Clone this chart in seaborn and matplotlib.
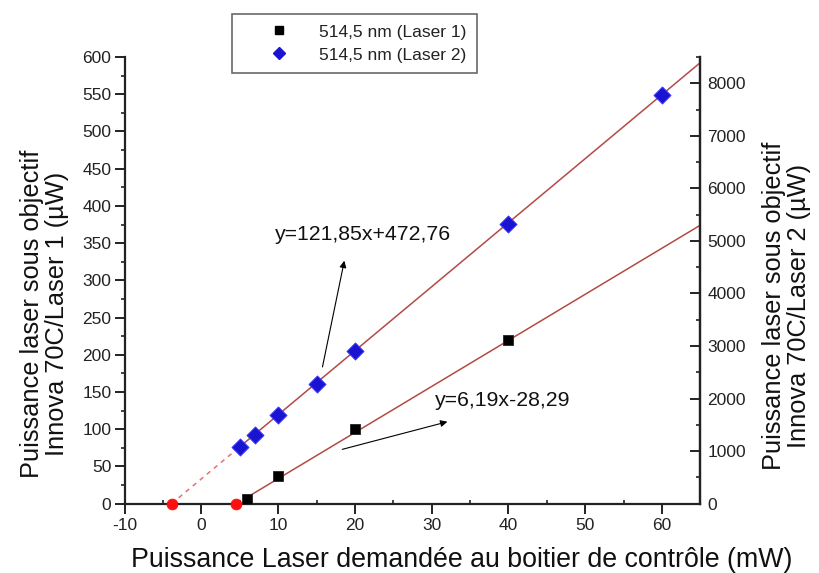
import numpy as np
import pandas as pd
import matplotlib
matplotlib.use("Agg")
import matplotlib.pyplot as plt
import seaborn as sns
from matplotlib.ticker import MultipleLocator

# data
x_laser1 = [6, 10, 20, 40]
y_laser1 = [6, 37, 100, 220]          # left axis, µW
x_laser2 = [5, 7, 10, 15, 20, 40, 60]
y_laser2 = [1080, 1310, 1680, 2280, 2900, 5330, 7770]   # right axis, µW
fit1 = (6.19, -28.29)
fit2 = (121.85, 472.76)
labels = ["514,5 nm (Laser 1)", "514,5 nm (Laser 2)"]

sns.set_style("ticks")
plt.rcParams['font.family'] = ['Liberation Sans', 'DejaVu Sans']
plt.rcParams['axes.unicode_minus'] = False

fig = plt.figure(figsize=(8.2, 5.73), dpi=100)
ax = fig.add_axes([0.152, 0.121, 0.702, 0.7795])
ax2 = ax.twinx()

line_col = "#b44a46"
dash_col = "#e67070"

# fit lines (solid over the data range, dashed back to the x intercept)
x0_1 = -fit1[1] / fit1[0]
x0_2 = -fit2[1] / fit2[0]
xs1 = np.array([6, 65])
xs2 = np.array([5, 65])
sns.lineplot(x=xs1, y=fit1[0] * xs1 + fit1[1], ax=ax, color=line_col, lw=1.1, zorder=2)
sns.lineplot(x=[x0_1, 6], y=[0, fit1[0] * 6 + fit1[1]], ax=ax, color=dash_col, lw=1.1, ls=(0, (3, 3)))
sns.lineplot(x=xs2, y=fit2[0] * xs2 + fit2[1], ax=ax2, color=line_col, lw=1.1, zorder=2)
sns.lineplot(x=[x0_2, 5], y=[0, fit2[0] * 5 + fit2[1]], ax=ax2, color=dash_col, lw=1.1, ls=(0, (3, 3)))

# data points
sns.scatterplot(x=x_laser1, y=y_laser1, ax=ax, marker="s", s=55, color="black",
                edgecolor="#222222", zorder=5, clip_on=False)
sns.scatterplot(x=x_laser2, y=y_laser2, ax=ax2, marker="D", s=75, color="#1a14d0",
                edgecolor="#3a36ff", zorder=5, clip_on=False)
sns.scatterplot(x=[x0_1], y=[0], ax=ax, color="#ff1010", s=60, edgecolor="#ff1010", zorder=6, clip_on=False)
sns.scatterplot(x=[x0_2], y=[0], ax=ax2, color="#ff1010", s=60, edgecolor="#ff1010", zorder=6, clip_on=False)

ax.set_xlim(-10, 65)
ax.set_ylim(0, 600)
ax2.set_ylim(0, 8500)
ax.xaxis.set_major_locator(MultipleLocator(10))
ax.xaxis.set_minor_locator(MultipleLocator(5))
ax.yaxis.set_major_locator(MultipleLocator(50))
ax.yaxis.set_minor_locator(MultipleLocator(25))
ax2.yaxis.set_major_locator(MultipleLocator(1000))
ax2.yaxis.set_minor_locator(MultipleLocator(500))

for a in (ax, ax2):
    a.spines['top'].set_visible(False)
    for s in ('left', 'bottom', 'right'):
        a.spines[s].set_linewidth(1.6)
        a.spines[s].set_color("#222222")
ax2.spines['left'].set_visible(False)
ax2.spines['bottom'].set_visible(False)

ax.tick_params(axis='y', which='major', direction='out', length=7, width=1.4, pad=2.5,
               labelsize=12.5, colors="#222222")
ax.tick_params(axis='y', which='minor', direction='out', length=3, width=1.2, colors="#222222")
ax.tick_params(axis='x', which='major', direction='out', length=7, width=1.4, pad=3.5,
               labelsize=12.5, colors="#222222")
ax.tick_params(axis='x', which='minor', direction='in', length=3, width=1.2, colors="#222222")
ax2.tick_params(axis='y', which='major', direction='in', length=7, width=1.4, pad=5,
                labelsize=12.5, colors="#222222")
ax2.tick_params(axis='y', which='minor', direction='in', length=3, width=1.2, colors="#222222")

ax.set_xlabel("Puissance Laser demandée au boitier de contrôle (mW)", fontsize=19.3, color="#111111")
ax.xaxis.set_label_coords(0.586, -0.098)
ax.set_ylabel("Puissance laser sous objectif\nInnova 70C/Laser 1 (µW)", fontsize=18.3,
              color="#111111", linespacing=1.05)
ax.yaxis.set_label_coords(-0.097, 0.425)
ax2.set_ylabel("Puissance laser sous objectif\nInnova 70C/Laser 2 (µW)", fontsize=18.3,
               color="#111111", linespacing=1.05)
ax2.yaxis.set_label_coords(1.108, 0.443)

# equation annotations
ax.annotate("", xy=(18.7, 330), xytext=(15.7, 180),
            arrowprops=dict(arrowstyle="-|>", color="black", lw=0.8, mutation_scale=10))
ax.text(9.56, 361, "y=121,85x+472,76", fontsize=15.3, va="center", color="#111111")
ax.annotate("", xy=(32.4, 111), xytext=(18.0, 72),
            arrowprops=dict(arrowstyle="-|>", color="black", lw=0.8, mutation_scale=10))
ax.text(30.4, 139, "y=6,19x-28,29", fontsize=15.3, va="center", color="#111111")

# legend
h1 = plt.Line2D([], [], marker="s", color="black", ls="none", markersize=6)
h2 = plt.Line2D([], [], marker="D", color="#1a14d0", ls="none", markersize=6)
leg = fig.legend([h1, h2], labels, loc="upper left", bbox_to_anchor=(232 / 820, 1 - 14 / 573),
                 fontsize=12.5, frameon=True, fancybox=False, edgecolor="#444444",
                 borderpad=0.6, labelspacing=0.45, handlelength=4.2, handletextpad=0.2,
                 borderaxespad=0)
leg.get_frame().set_linewidth(1.2)
for t in leg.get_texts():
    t.set_color("#222222")

fig.savefig("out.png", dpi=100)
